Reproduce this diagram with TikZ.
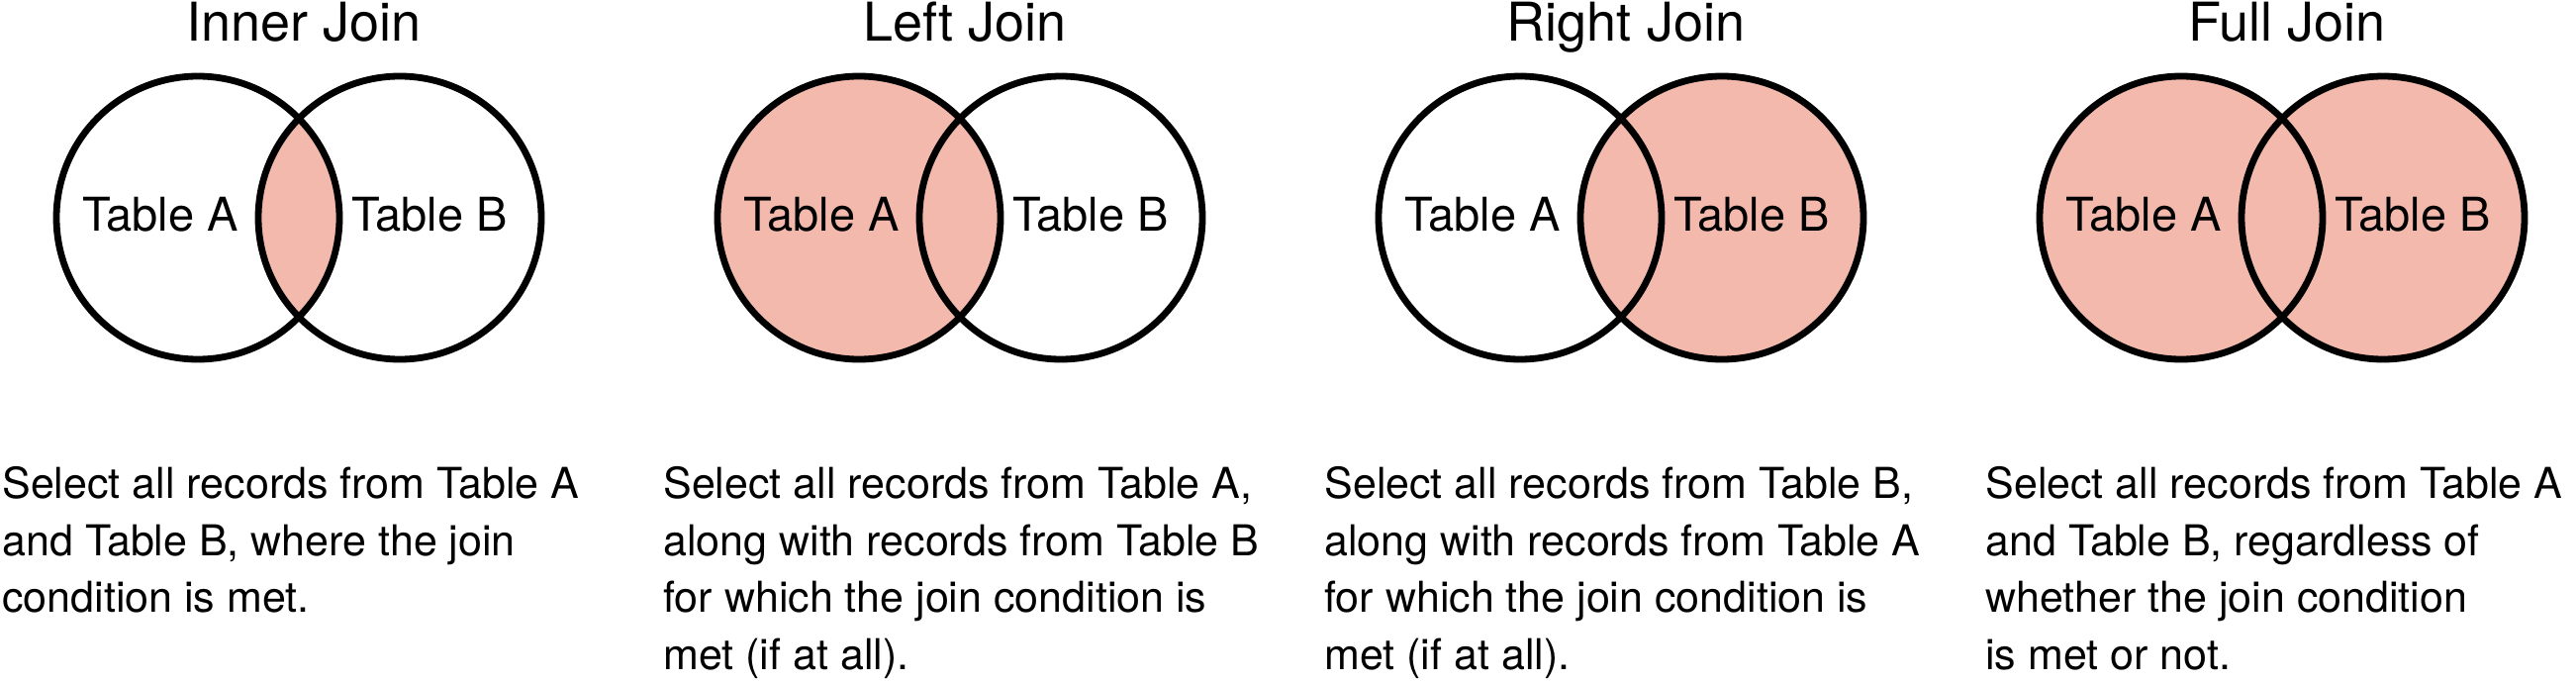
\documentclass[tikz,border=0pt]{standalone}
\usepackage{fontspec}
\setmainfont{TeX Gyre Heros}
\definecolor{joinfill}{RGB}{243,185,173}
\begin{document}
\begin{tikzpicture}[x=0.5pt, y=0.5pt,
  every node/.style={inner sep=0pt},
  title/.style={anchor=base, font=\fontsize{27}{32}\selectfont},
  tablelabel/.style={anchor=base, font=\fontsize{23.5}{28}\selectfont},
  note/.style={anchor=north west, align=left, font=\fontsize{21.5}{28.8}\selectfont},
  ring/.style={line width=3.4pt, black}]
\useasboundingbox (0,0) rectangle (2603,-690);
% Inner Join
\begin{scope}
\clip (200,-220) circle (143);
\fill [joinfill] (404,-220) circle (143);
\end{scope}
\draw [ring] (200,-220) circle (143);
\draw [ring] (404,-220) circle (143);
\node [title] (innertitle) at (307,-42) {Inner Join};
\node [tablelabel] (innerA) at (162,-233) {Table A};
\node [tablelabel] (innerB) at (434,-233) {Table B};
\node [note] (innernote) at (2,-471) {Select all records from Table A\\and Table B, where the join\\condition is met.};
% Left Join
\fill [joinfill] (868,-220) circle (143);
\draw [ring] (868,-220) circle (143);
\draw [ring] (1072,-220) circle (143);
\node [title] (lefttitle) at (975,-42) {Left Join};
\node [tablelabel] (leftA) at (830,-233) {Table A};
\node [tablelabel] (leftB) at (1102,-233) {Table B};
\node [note] (leftnote) at (670,-471) {Select all records from Table A,\\along with records from Table B\\for which the join condition is\\met (if at all).};
% Right Join
\fill [joinfill] (1740,-220) circle (143);
\draw [ring] (1536,-220) circle (143);
\draw [ring] (1740,-220) circle (143);
\node [title] (righttitle) at (1643,-42) {Right Join};
\node [tablelabel] (rightA) at (1498,-233) {Table A};
\node [tablelabel] (rightB) at (1770,-233) {Table B};
\node [note] (rightnote) at (1338,-471) {Select all records from Table B,\\along with records from Table A\\for which the join condition is\\met (if at all).};
% Full Join
\fill [joinfill] (2204,-220) circle (143);
\fill [joinfill] (2408,-220) circle (143);
\draw [ring] (2204,-220) circle (143);
\draw [ring] (2408,-220) circle (143);
\node [title] (fulltitle) at (2311,-42) {Full Join};
\node [tablelabel] (fullA) at (2166,-233) {Table A};
\node [tablelabel] (fullB) at (2438,-233) {Table B};
\node [note] (fullnote) at (2006,-471) {Select all records from Table A\\and Table B, regardless of\\whether the join condition\\is met or not.};
\end{tikzpicture}
\end{document}
